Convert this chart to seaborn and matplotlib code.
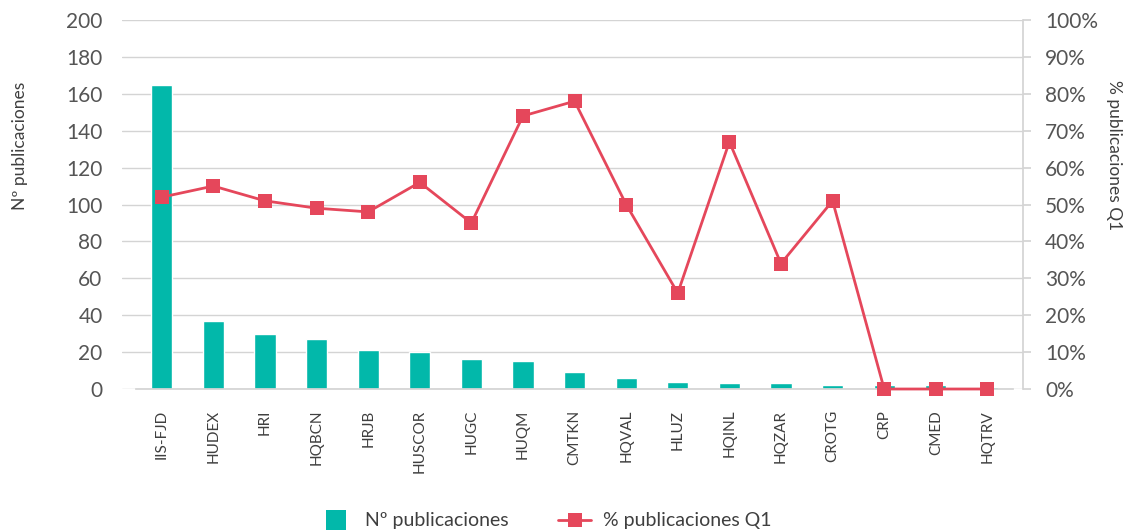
import matplotlib
matplotlib.use("Agg")
import matplotlib.pyplot as plt
import matplotlib.ticker as mticker
from matplotlib.lines import Line2D
import numpy as np
import pandas as pd
import seaborn as sns

centros = ["IIS-FJD", "HUDEX", "HRI", "HQBCN", "HRJB", "HUSCOR", "HUGC", "HUQM", "CMTKN",
           "HQVAL", "HLUZ", "HQINL", "HQZAR", "CROTG", "CRP", "CMED", "HQTRV"]
n_publicaciones = [165, 37, 30, 27, 21, 20, 16, 15, 9, 6, 4, 3, 3, 2, 2, 2, 1]
pct_q1 = [52, 55, 51, 49, 48, 56, 45, 74, 78, 50, 26, 67, 34, 51, 0, 0, 0]

df = pd.DataFrame({"centro": centros, "n": n_publicaciones, "pct": pct_q1,
                   "pos": np.arange(len(centros))})

teal = "#02B8AA"
red = "#E5475B"
grid_c = "#D4D4D4"
text_c = "#3F3F3F"
tick_c = "#555555"

sns.set_theme(style="white")
plt.rcParams["font.family"] = ["Lato", "DejaVu Sans"]
plt.rcParams["text.color"] = text_c
plt.rcParams["axes.labelcolor"] = text_c
plt.rcParams["xtick.color"] = text_c
plt.rcParams["ytick.color"] = text_c

fig, ax1 = plt.subplots(figsize=(11.32, 5.31), dpi=100)
fig.subplots_adjust(left=0.1078, right=0.9037, top=0.9623, bottom=0.2674)

# barras: número de publicaciones por centro
sns.barplot(data=df, x="centro", y="n", color=teal, width=0.41, saturation=1, ax=ax1, zorder=2)
ax1.set_ylim(0, 200)
ax1.set_yticks(range(0, 201, 20))
ax1.set_xlim(-0.77, len(centros) - 0.31)
ax1.grid(axis="y", color=grid_c, linewidth=1, zorder=0)
ax1.set_axisbelow(True)
for s in ["top", "left", "right"]:
    ax1.spines[s].set_visible(False)
ax1.spines["bottom"].set_color(grid_c)
ax1.spines["bottom"].set_bounds(-0.5, len(centros) - 0.5)
ax1.tick_params(axis="y", length=0, pad=14, labelsize=15, labelcolor=tick_c)
ax1.tick_params(axis="x", length=0, pad=15, labelsize=11, rotation=90)
ax1.set_xticks(np.arange(-0.5, len(centros)), minor=True)
ax1.tick_params(axis="x", which="minor", length=3, color="#9A9A9A", width=0.8)
ax1.set_xlabel("")
ax1.set_ylabel("Nº publicaciones", fontsize=12.5)
ax1.yaxis.set_label_coords(-0.104, 0.66)

# línea: porcentaje de publicaciones en Q1 (eje derecho)
ax2 = ax1.twinx()
sns.lineplot(data=df, x="pos", y="pct", color=red, linewidth=2, marker="s",
             markersize=10, markeredgewidth=0, sort=False, ax=ax2, zorder=3, clip_on=False)
ax2.set_ylim(0, 100)
ax2.set_yticks(range(0, 101, 10))
ax2.yaxis.set_major_formatter(mticker.PercentFormatter(decimals=0))
for s in ["top", "left", "bottom"]:
    ax2.spines[s].set_visible(False)
ax2.spines["right"].set_color(grid_c)
ax2.tick_params(axis="y", length=6, color=grid_c, pad=10, labelsize=15, labelcolor=tick_c)
ax2.set_ylabel("% publicaciones Q1", fontsize=12.5, rotation=270)
ax2.yaxis.set_label_coords(1.11, 0.634)

handles = [Line2D([0], [0], color=teal, linestyle="none", marker="s", markersize=15, markeredgewidth=0),
           Line2D([0], [0], color=red, linewidth=2, marker="s", markersize=10, markeredgewidth=0)]
fig.legend(handles, ["Nº publicaciones", "% publicaciones Q1"], loc="lower center",
           bbox_to_anchor=(0.482, -0.03), ncol=2, frameon=False, fontsize=14,
           handlelength=1.7, columnspacing=2.57, handletextpad=0.6)

fig.savefig("out.png", dpi=100)
